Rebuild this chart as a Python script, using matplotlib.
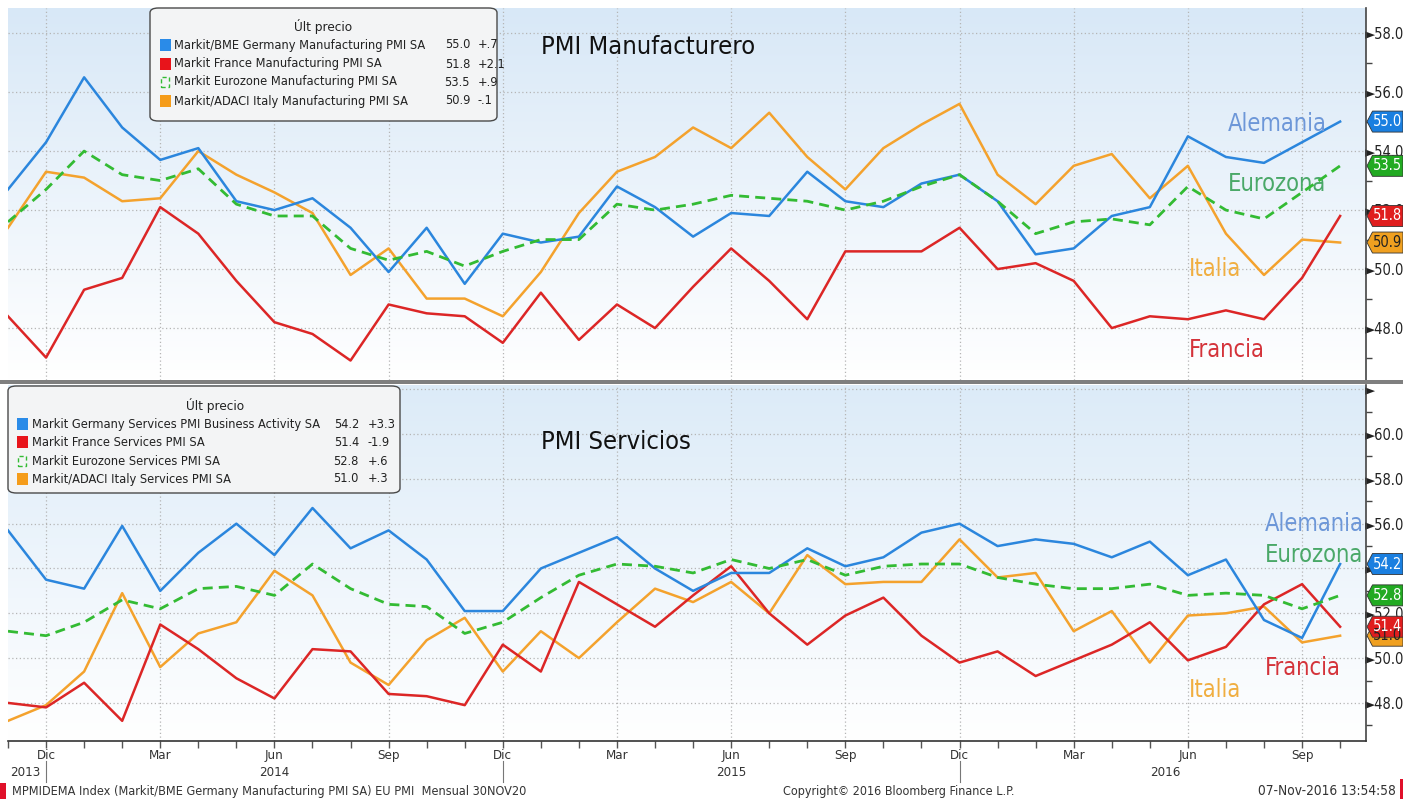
import numpy as np
import pandas as pd
import matplotlib
matplotlib.use("Agg")
import matplotlib.pyplot as plt
from matplotlib import transforms
from matplotlib.patches import Polygon, FancyBboxPatch, Rectangle

# ---------------- data ----------------
months = pd.date_range("2013-11-01", periods=36, freq="MS")
month_names = {12: "Dic", 3: "Mar", 6: "Jun", 9: "Sep"}

mfg_germany = [52.7, 54.3, 56.5, 54.8, 53.7, 54.1, 52.3, 52.0, 52.4, 51.4, 49.9, 51.4,
               49.5, 51.2, 50.9, 51.1, 52.8, 52.1, 51.1, 51.9, 51.8, 53.3, 52.3, 52.1,
               52.9, 53.2, 52.3, 50.5, 50.7, 51.8, 52.1, 54.5, 53.8, 53.6, 54.3, 55.0]
mfg_france = [48.4, 47.0, 49.3, 49.7, 52.1, 51.2, 49.6, 48.2, 47.8, 46.9, 48.8, 48.5,
              48.4, 47.5, 49.2, 47.6, 48.8, 48.0, 49.4, 50.7, 49.6, 48.3, 50.6, 50.6,
              50.6, 51.4, 50.0, 50.2, 49.6, 48.0, 48.4, 48.3, 48.6, 48.3, 49.7, 51.8]
mfg_eurozone = [51.6, 52.7, 54.0, 53.2, 53.0, 53.4, 52.2, 51.8, 51.8, 50.7, 50.3, 50.6,
                50.1, 50.6, 51.0, 51.0, 52.2, 52.0, 52.2, 52.5, 52.4, 52.3, 52.0, 52.3,
                52.8, 53.2, 52.3, 51.2, 51.6, 51.7, 51.5, 52.8, 52.0, 51.7, 52.6, 53.5]
mfg_italy = [51.4, 53.3, 53.1, 52.3, 52.4, 54.0, 53.2, 52.6, 51.9, 49.8, 50.7, 49.0,
             49.0, 48.4, 49.9, 51.9, 53.3, 53.8, 54.8, 54.1, 55.3, 53.8, 52.7, 54.1,
             54.9, 55.6, 53.2, 52.2, 53.5, 53.9, 52.4, 53.5, 51.2, 49.8, 51.0, 50.9]

srv_germany = [55.7, 53.5, 53.1, 55.9, 53.0, 54.7, 56.0, 54.6, 56.7, 54.9, 55.7, 54.4,
               52.1, 52.1, 54.0, 54.7, 55.4, 54.0, 53.0, 53.8, 53.8, 54.9, 54.1, 54.5,
               55.6, 56.0, 55.0, 55.3, 55.1, 54.5, 55.2, 53.7, 54.4, 51.7, 50.9, 54.2]
srv_france = [48.0, 47.8, 48.9, 47.2, 51.5, 50.4, 49.1, 48.2, 50.4, 50.3, 48.4, 48.3,
              47.9, 50.6, 49.4, 53.4, 52.4, 51.4, 52.8, 54.1, 52.0, 50.6, 51.9, 52.7,
              51.0, 49.8, 50.3, 49.2, 49.9, 50.6, 51.6, 49.9, 50.5, 52.4, 53.3, 51.4]
srv_eurozone = [51.2, 51.0, 51.6, 52.6, 52.2, 53.1, 53.2, 52.8, 54.2, 53.1, 52.4, 52.3,
                51.1, 51.6, 52.7, 53.7, 54.2, 54.1, 53.8, 54.4, 54.0, 54.4, 53.7, 54.1,
                54.2, 54.2, 53.6, 53.3, 53.1, 53.1, 53.3, 52.8, 52.9, 52.8, 52.2, 52.8]
srv_italy = [47.2, 47.9, 49.4, 52.9, 49.6, 51.1, 51.6, 53.9, 52.8, 49.8, 48.8, 50.8,
             51.8, 49.4, 51.2, 50.0, 51.6, 53.1, 52.5, 53.4, 52.0, 54.6, 53.3, 53.4,
             53.4, 55.3, 53.6, 53.8, 51.2, 52.1, 49.8, 51.9, 52.0, 52.3, 50.7, 51.0]

mfg_names = ["Markit/BME Germany Manufacturing PMI SA", "Markit France Manufacturing PMI SA",
             "Markit Eurozone Manufacturing PMI SA", "Markit/ADACI Italy Manufacturing PMI SA"]
srv_names = ["Markit Germany Services PMI Business Activity SA", "Markit France Services PMI SA",
             "Markit Eurozone Services PMI SA", "Markit/ADACI Italy Services PMI SA"]
short_names = ["Alemania", "Francia", "Eurozona", "Italia"]

# ---------------- style ----------------
plt.rcParams["font.family"] = ["DejaVu Sans"]
plt.rcParams["font.stretch"] = "condensed"

line_colors = ["#2b86dd", "#dc2626", "#33bb33", "#f4a22d"]
leg_colors = ["#2a8be8", "#e8141b", "#33bb33", "#f59c1a"]
label_colors = ["#6d97d8", "#d4333a", "#4aa868", "#f0ae40"]
tag_colors = ["#1a7fe0", "#e01e1e", "#22aa22", "#f0a020"]
tag_text = ["white", "white", "white", "#222222"]

W, H = 1403, 799
fig = plt.figure(figsize=(W / 100, H / 100), dpi=100)
fig.patch.set_facecolor("white")


def fx(px):
    return px / W


def fy(py):
    return 1 - py / H


x = np.arange(len(months))
quarter_idx = [i for i, m in enumerate(months) if m.month in month_names]
quarter_lab = [month_names[months[i].month] for i in quarter_idx]


def fmt_change(v):
    s = f"{abs(v):.1f}"
    if s.startswith("0"):
        s = s[1:]
    return ("+" if v >= 0 else "-") + s


def make_panel(rect, ylim, series, title, title_xy, labels_pos, top_grad, show_x, tag_order):
    ax = fig.add_axes(rect)
    ax.set_xlim(0, 35.68)
    ax.set_ylim(*ylim)
    grad = np.linspace(0, 1, 256).reshape(-1, 1)
    cmap = matplotlib.colors.LinearSegmentedColormap.from_list("bg", ["#ffffff", top_grad])
    ax.imshow(grad, extent=[0, 1, 0, 1], transform=ax.transAxes, cmap=cmap,
              aspect="auto", origin="lower", zorder=0)
    for sp in ["left", "top", "bottom"]:
        ax.spines[sp].set_visible(False)
    ax.spines["right"].set_color("#444444")
    ax.spines["right"].set_linewidth(1.2)

    # y axis
    ax.yaxis.tick_right()
    lo = int(np.ceil(ylim[0]))
    hi = int(np.floor(ylim[1]))
    majors = [v for v in range(lo, hi + 1) if v % 2 == 0]
    minors = [v for v in range(lo, hi + 1) if v % 2 == 1]
    ax.set_yticks(majors)
    ax.set_yticklabels(["\u25BA" + (f"{v:.1f}" if v < ylim[1] - 0.8 else "") for v in majors])
    ax.set_yticks(minors, minor=True)
    ax.tick_params(axis="y", which="major", length=0, pad=-1, labelsize=10.5,
                   labelcolor="#222222")
    ax.tick_params(axis="y", which="minor", length=4, width=1, color="#444444",
                   direction="out")

    # x axis
    ax.set_xticks(quarter_idx)
    ax.set_xticks(x, minor=True)
    if show_x:
        ax.spines["bottom"].set_visible(True)
        ax.spines["bottom"].set_color("#333333")
        ax.spines["bottom"].set_linewidth(1.2)
        ax.set_xticklabels(quarter_lab)
        ax.tick_params(axis="x", which="both", length=5, width=1, color="#555555",
                       direction="out", labelsize=9.5, labelcolor="#333333", pad=1)
    else:
        ax.set_xticklabels([])
        ax.tick_params(axis="x", which="both", length=0)

    ax.grid(True, which="major", color="#b5b5b5", linestyle=(0, (1, 2)), linewidth=0.9)
    ax.set_axisbelow(True)

    for i in [3, 1, 0, 2]:
        if i == 2:
            ax.plot(x, series[i], color=line_colors[i], lw=2.0, dashes=(3.6, 2.2),
                    zorder=4)
        else:
            ax.plot(x, series[i], color=line_colors[i], lw=1.8, zorder=3)

    ax.text(title_xy[0], title_xy[1], title, transform=ax.transAxes, fontsize=18.3,
            color="#111111", ha="left", va="center")

    for i, (xx, yy) in labels_pos.items():
        ax.text(xx, yy, short_names[i], transform=ax.transAxes, fontsize=17,
                color=label_colors[i], ha="left", va="center")

    for i in tag_order:
        v = series[i][-1]
        trans = fig.dpi_scale_trans + transforms.ScaledTranslation(1, v, ax.get_yaxis_transform())
        verts = np.array([[0.01, 0.0], [0.065, 0.105], [0.37, 0.105],
                          [0.37, -0.105], [0.065, -0.105]])
        poly = Polygon(verts, closed=True, transform=trans, facecolor=tag_colors[i],
                       edgecolor="#333333", linewidth=0.6, clip_on=False, zorder=20)
        ax.add_patch(poly)
        ax.annotate(f"{v:.1f}", xy=(1, v), xycoords=ax.get_yaxis_transform(),
                    xytext=(15.5, 0), textcoords="offset points", ha="center",
                    va="center", fontsize=10.5, color=tag_text[i], zorder=21,
                    annotation_clip=False)
    return ax


mfg_series = [mfg_germany, mfg_france, mfg_eurozone, mfg_italy]
srv_series = [srv_germany, srv_france, srv_eurozone, srv_italy]

ax1 = make_panel([fx(8), fy(380), fx(1358), 372 / H], (46.24, 58.85), mfg_series,
                 "PMI Manufacturero", ((541 - 8) / 1358, (380 - 47) / 372),
                 {0: ((1228 - 8) / 1358, (380 - 124) / 372),
                  2: ((1228 - 8) / 1358, (380 - 184) / 372),
                  3: ((1189 - 8) / 1358, (380 - 269) / 372),
                  1: ((1189 - 8) / 1358, (380 - 350) / 372)},
                 "#d8e8f7", False, [3, 1, 2, 0])

ax2 = make_panel([fx(8), fy(741), fx(1358), 356 / H], (46.3, 62.19), srv_series,
                 "PMI Servicios", ((541 - 8) / 1358, (741 - 442) / 356),
                 {0: ((1265 - 8) / 1358, (741 - 524) / 356),
                  2: ((1265 - 8) / 1358, (741 - 555) / 356),
                  1: ((1265 - 8) / 1358, (741 - 668) / 356),
                  3: ((1189 - 8) / 1358, (741 - 690) / 356)},
                 "#dcebf8", True, [3, 2, 1, 0])

# separator between panels
fig.patches.append(Rectangle((0, fy(384)), 1, 4 / H, transform=fig.transFigure,
                             facecolor="#7f7f7f", edgecolor="none", zorder=5))

LEG_FS = 9.2


def draw_legend(box, title_xy, rows_y, sq_x, name_x, val_x, chg_x, names, series):
    x0, y0, x1, y1 = box
    fig.patches.append(FancyBboxPatch((fx(x0), fy(y1)), fx(x1 - x0), (y1 - y0) / H,
                                      boxstyle="round,pad=0,rounding_size=0.006",
                                      transform=fig.transFigure, facecolor="#f3f4f5",
                                      edgecolor="#4a4a4a", linewidth=1.0, zorder=6))
    fig.text(fx(title_xy[0]), fy(title_xy[1]), "\u00DAlt precio", ha="center", va="center",
             fontsize=LEG_FS + 0.5, color="#222222", zorder=7)
    for i, ry in enumerate(rows_y):
        if i == 2:
            fig.patches.append(Rectangle((fx(sq_x + 1), fy(ry + 5)), fx(8), 10 / H,
                                         transform=fig.transFigure, facecolor="none",
                                         edgecolor=leg_colors[i], linewidth=1.0,
                                         linestyle=(0, (3, 2)), zorder=7))
        else:
            fig.patches.append(Rectangle((fx(sq_x), fy(ry + 6)), fx(11), 12 / H,
                                         transform=fig.transFigure, facecolor=leg_colors[i],
                                         edgecolor="none", zorder=7))
        v = series[i][-1]
        d = series[i][-1] - series[i][-2]
        fig.text(fx(name_x), fy(ry), names[i], ha="left", va="center", fontsize=LEG_FS,
                 color="#222222", zorder=7)
        fig.text(fx(val_x), fy(ry), f"{v:.1f}", ha="right", va="center", fontsize=LEG_FS,
                 color="#222222", zorder=7)
        fig.text(fx(chg_x), fy(ry), fmt_change(d), ha="left", va="center", fontsize=LEG_FS,
                 color="#222222", zorder=7)


draw_legend((150, 8, 497, 121), (323, 27), [45, 64, 82, 101], 160, 174, 470, 478,
            mfg_names, mfg_series)
draw_legend((8, 386, 400, 493), (215, 405), [424, 442, 461, 479], 17, 32, 359, 368,
            srv_names, srv_series)

# year labels and separators
ytrans = transforms.blended_transform_factory(ax2.transData, fig.transFigure)
year_labels = ["2013", "2014", "2015", "2016"]
year_pos = [0.05, 7, 19, 30.4]
year_ha = ["left", "center", "center", "center"]
for lab, pos, ha in zip(year_labels, year_pos, year_ha):
    ax2.text(pos, fy(772), lab, transform=ytrans, ha=ha, va="center", fontsize=9.5,
             color="#333333")
for i in quarter_idx:
    if months[i].month == 12:
        ax2.plot([i, i], [fy(761), fy(782)], transform=ytrans, color="#777777", lw=0.8,
                 clip_on=False)

# footer
fig.text(fx(12), fy(791), "MPMIDEMA Index (Markit/BME Germany Manufacturing PMI SA) EU PMI  Mensual 30NOV20",
         ha="left", va="center", fontsize=9.1, color="#333333")
fig.text(fx(899), fy(791), "Copyright\u00A9 2016 Bloomberg Finance L.P.", ha="center",
         va="center", fontsize=9.0, color="#333333")
fig.text(fx(1396), fy(791), "07-Nov-2016 13:54:58", ha="right", va="center",
         fontsize=9.8, color="#333333")
fig.patches.append(Rectangle((0, 0), fx(6), 16 / H, transform=fig.transFigure,
                             facecolor="#e0102a", edgecolor="none"))
fig.patches.append(Rectangle((fx(1400), 0), fx(3), 20 / H, transform=fig.transFigure,
                             facecolor="#e0102a", edgecolor="none"))

fig.savefig("out.png", dpi=100)
